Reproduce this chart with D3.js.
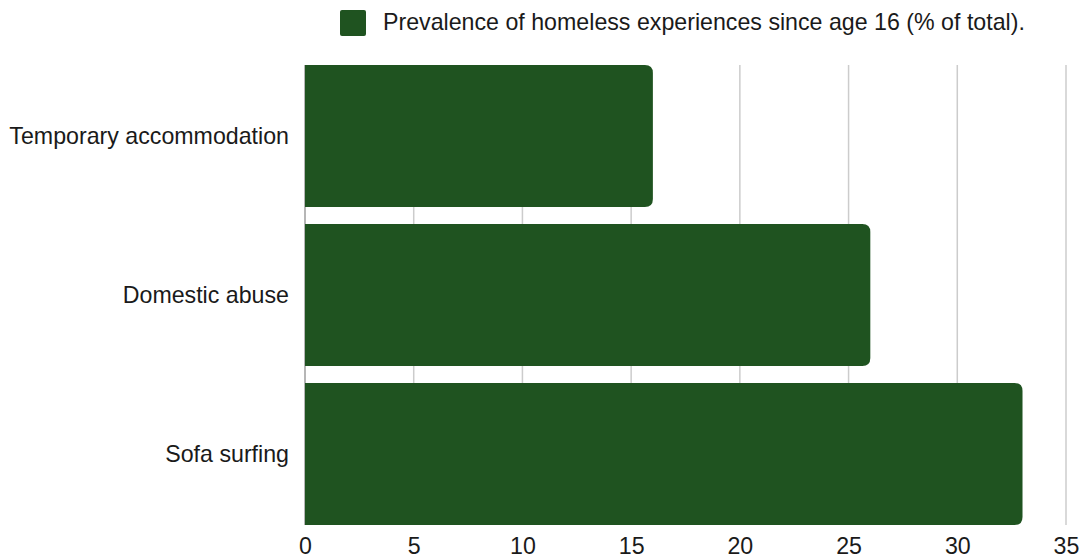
<!DOCTYPE html>
<html>
<head>
<meta charset="utf-8">
<script src="https://cdn.jsdelivr.net/npm/d3@7"></script>
<style>
  html, body { margin: 0; padding: 0; background: #fff; }
  svg { display: block; font-family: "Liberation Sans", Arial, sans-serif; }
</style>
</head>
<body>
<svg id="chart" width="1085" height="559"></svg>
<script>
// Homeless experiences since age 16, % of total
const categories = ["Temporary accommodation", "Domestic abuse", "Sofa surfing"];
const values = [16, 26, 33];
const tickValues = [0, 5, 10, 15, 20, 25, 30, 35];
const seriesName = "Prevalence of homeless experiences since age 16 (% of total).";

(function () {
  const svg = d3.select("#chart");
  const barColor = "#1f5320";
  const textColor = "#1a1a1a";
  const fontSize = 23.2;
  const plotLeft = 305, plotRight = 1066, plotTop = 65, plotBottom = 525;

  const x = d3.scaleLinear().domain([0, 35]).range([plotLeft, plotRight]);
  const y = d3.scaleBand().domain(categories).range([plotTop, plotBottom])
    .paddingInner(0.107).paddingOuter(0);

  // vertical gridlines
  svg.append("g").selectAll("line").data(tickValues).join("line")
    .attr("x1", d => x(d)).attr("x2", d => x(d))
    .attr("y1", plotTop).attr("y2", plotBottom)
    .attr("stroke", d => d === 0 ? "#9e9e9e" : "#cccccc")
    .attr("stroke-width", 1.5);

  // bars with rounded right end
  const r = 8;
  function barPath(x0, x1, y0, h) {
    const rr = Math.min(r, (x1 - x0) / 2, h / 2);
    return `M${x0},${y0}H${x1 - rr}Q${x1},${y0} ${x1},${y0 + rr}` +
           `V${y0 + h - rr}Q${x1},${y0 + h} ${x1 - rr},${y0 + h}H${x0}Z`;
  }
  svg.append("g").selectAll("path").data(categories).join("path")
    .attr("d", (c, i) => barPath(x(0), x(values[i]), y(c), y.bandwidth()))
    .attr("fill", barColor);

  // category labels
  svg.append("g").selectAll("text").data(categories).join("text")
    .attr("x", 289)
    .attr("y", c => y(c) + y.bandwidth() / 2)
    .attr("dy", "0.35em")
    .attr("text-anchor", "end")
    .attr("font-size", fontSize)
    .attr("fill", textColor)
    .text(c => c);

  // x-axis tick labels
  const xAxis = d3.axisBottom(x).tickValues(tickValues).tickSize(0).tickPadding(0);
  const ax = svg.append("g").attr("transform", `translate(0,${plotBottom + 13})`).call(xAxis);
  ax.select(".domain").remove();
  ax.selectAll("text")
    .attr("font-size", fontSize)
    .attr("font-family", "\"Liberation Sans\", Arial, sans-serif")
    .attr("fill", textColor)
    .attr("dy", "0.71em");

  // legend
  const lg = svg.append("g");
  lg.append("rect").attr("x", 340).attr("y", 10).attr("width", 26).attr("height", 26)
    .attr("rx", 2).attr("fill", barColor);
  lg.append("text").attr("x", 383).attr("y", 22).attr("dy", "0.35em")
    .attr("font-size", fontSize).attr("fill", textColor).text(seriesName);
})();
</script>
</body>
</html>
